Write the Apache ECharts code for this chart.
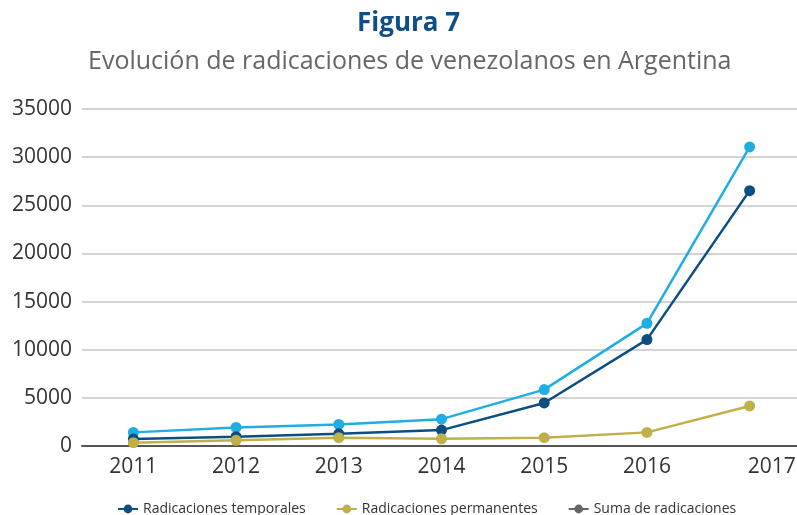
<!DOCTYPE html>
<html><head><meta charset="utf-8">
<script src="https://cdn.jsdelivr.net/npm/echarts@6/dist/echarts.min.js"></script>
<style>html,body{margin:0;padding:0;background:#fff}#c{width:797px;height:515px}</style>
</head><body><div id="c"></div>
<script>
const years = ['2011','2012','2013','2014','2015','2016','2017'];
const temporales = [720, 960, 1270, 1650, 4470, 11050, 26520];
const permanentes = [340, 590, 860, 750, 860, 1415, 4160];
const suma = [1415, 1930, 2240, 2790, 5860, 12740, 31060];
const yTicks = [0, 5000, 10000, 15000, 20000, 25000, 30000, 35000];

const font = '"Open Sans", "Noto Sans", sans-serif';
const chart = echarts.init(document.getElementById('c'));
const mk = (name, data, color) => ({
  name, type: 'line', data, color,
  symbol: 'circle', symbolSize: 11,
  lineStyle: { width: 2.5, color },
  itemStyle: { color },
  z: name === 'Suma de radicaciones' ? 1 : 2
});
chart.setOption({
  animation: false,
  title: [
    { text: 'Figura 7', left: 352, top: 6,
      textStyle: { fontFamily: font, fontSize: 26, fontWeight: 'bold', color: '#0d4f86' } },
    { text: 'Evolución de radicaciones de venezolanos en Argentina', left: 83, top: 44,
      textStyle: { fontFamily: font, fontSize: 25, fontWeight: 'normal', color: '#666' } }
  ],
  legend: {
    top: 497, left: 112, itemGap: 30, itemWidth: 20, itemHeight: 11,
    textStyle: { fontFamily: font, fontSize: 14, color: '#333' },
    data: [
      { name: 'Radicaciones temporales' },
      { name: 'Radicaciones permanentes' },
      { name: 'Suma de radicaciones', itemStyle: { color: '#666' }, lineStyle: { color: '#666' } }
    ]
  },
  grid: { left: 82, width: 719, top: 109, height: 337, outerBoundsMode: 'none', containLabel: false },
  xAxis: {
    type: 'category', data: years, boundaryGap: true,
    axisLine: { lineStyle: { color: '#555', width: 2 } },
    axisTick: { show: false },
    axisLabel: {
      interval: 0, fontFamily: font, fontSize: 21, color: '#333', margin: 11,
      formatter: v => v === '2017' ? '{r|' + v + '}' : v,
      rich: { r: { fontFamily: font, fontSize: 21, color: '#333', padding: [0, 0, 0, 44] } }
    }
  },
  yAxis: {
    type: 'value', min: yTicks[0], max: yTicks[yTicks.length - 1], interval: 5000,
    axisLine: { show: false }, axisTick: { show: false },
    axisLabel: { fontFamily: font, fontSize: 21, color: '#333', margin: 10, formatter: v => String(v) },
    splitLine: { lineStyle: { color: '#d3d3d3', width: 2 } }
  },
  series: [
    mk('Radicaciones temporales', temporales, '#0b4f82'),
    mk('Radicaciones permanentes', permanentes, '#bfb04a'),
    mk('Suma de radicaciones', suma, '#1fade3')
  ]
});
</script></body></html>
